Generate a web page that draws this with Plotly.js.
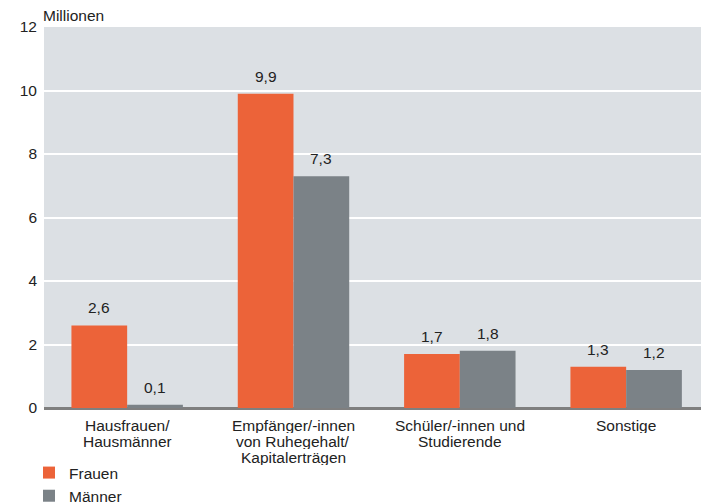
<!DOCTYPE html>
<html>
<head>
<meta charset="utf-8">
<script src="https://cdn.plot.ly/plotly-3.0.1.min.js"></script>
<style>
  html, body { margin: 0; padding: 0; background: #ffffff; overflow: hidden; }
  #wrap { width: 701px; height: 502px; overflow: hidden; }
</style>
</head>
<body>
<div id="wrap"><div id="chart"></div></div>
<script>
// Nichterwerbspersonen nach Gruppe und Geschlecht, in Millionen
const categories = [
  'Hausfrauen/\nHausmänner',
  'Empfänger/-innen\nvon Ruhegehalt/\nKapitalerträgen',
  'Schüler/-innen und\nStudierende',
  'Sonstige'
];
const frauen = [2.6, 9.9, 1.7, 1.3];
const maenner = [0.1, 7.3, 1.8, 1.2];
const seriesNames = ['Frauen', 'Männer'];
const yTicks = [0, 2, 4, 6, 8, 10, 12];
const unitLabel = 'Millionen';

// the figure is drawn a little taller than the visible frame so the
// legend at the bottom fits without shrinking the plot area
const W = 701, H = 524;
const colFrauen = '#EC6339';
const colMaenner = '#7B8287';
const textCol = '#222222';
const font = 'Liberation Sans, Arial, sans-serif';
const fs = 15.5;
const bargap = 0.33;

// plot area in pixels
const plotL = 44, plotT = 27, plotB = 408;
const px = x => x / W;
const py = y => 1 - y / H;

const idx = categories.map((_, i) => i);

const traces = [
  { type: 'bar', name: seriesNames[0], x: idx, y: frauen,
    marker: { color: colFrauen }, hoverinfo: 'skip' },
  { type: 'bar', name: seriesNames[1], x: idx, y: maenner,
    marker: { color: colMaenner }, hoverinfo: 'skip' }
];

const annotations = [];

// value labels above each bar
const half = (1 - bargap) / 4;
const fmt = v => v.toFixed(1).replace('.', ',');
[frauen, maenner].forEach((vals, s) => {
  vals.forEach((v, i) => {
    annotations.push({
      x: i + (s === 0 ? -half : half), y: v, xref: 'x', yref: 'y',
      text: fmt(v), showarrow: false, yanchor: 'bottom', yshift: 7,
      font: { family: font, size: fs, color: textCol }
    });
  });
});

// category labels, one annotation per line for tight leading
categories.forEach((label, i) => {
  label.split('\n').forEach((line, k) => {
    annotations.push({
      x: i, y: py(425 + k * 16), xref: 'x', yref: 'paper',
      text: line, showarrow: false, xanchor: 'center', yanchor: 'middle',
      height: 16, valign: 'middle',
      font: { family: font, size: fs, color: textCol }
    });
  });
});

// unit label above the value axis
annotations.push({
  x: px(41), y: py(plotT), xref: 'paper', yref: 'paper',
  xanchor: 'left', yanchor: 'bottom', yshift: 1,
  text: unitLabel, showarrow: false,
  font: { family: font, size: fs, color: textCol }
});

const layout = {
  width: W, height: H,
  margin: { l: 0, r: 0, t: 0, b: 0 },
  paper_bgcolor: '#ffffff',
  plot_bgcolor: '#DCE0E4',
  barmode: 'group',
  bargap: bargap,
  bargroupgap: 0,
  font: { family: font, size: fs, color: textCol },
  xaxis: {
    type: 'linear', range: [-0.5, 3.45], domain: [px(plotL), 1],
    showticklabels: false, showgrid: false, zeroline: false,
    showline: false, ticks: '', automargin: false, fixedrange: true
  },
  yaxis: {
    range: [0, 12], domain: [py(plotB), py(plotT)],
    tickvals: yTicks, ticktext: yTicks.map(String),
    showgrid: true, gridcolor: '#ffffff', gridwidth: 2,
    zeroline: true, zerolinecolor: '#7f7f7f', zerolinewidth: 3,
    showline: false, ticks: '', ticklabelstandoff: 6,
    tickfont: { family: font, size: fs, color: textCol },
    automargin: false, fixedrange: true
  },
  showlegend: true,
  legend: {
    orientation: 'v', x: px(29), xanchor: 'left', y: py(456), yanchor: 'top',
    font: { family: font, size: fs, color: textCol },
    bgcolor: 'rgba(0,0,0,0)', tracegroupgap: 0
  },
  annotations: annotations
};

Plotly.newPlot('chart', traces, layout, { displayModeBar: false, staticPlot: true });
</script>
</body>
</html>
